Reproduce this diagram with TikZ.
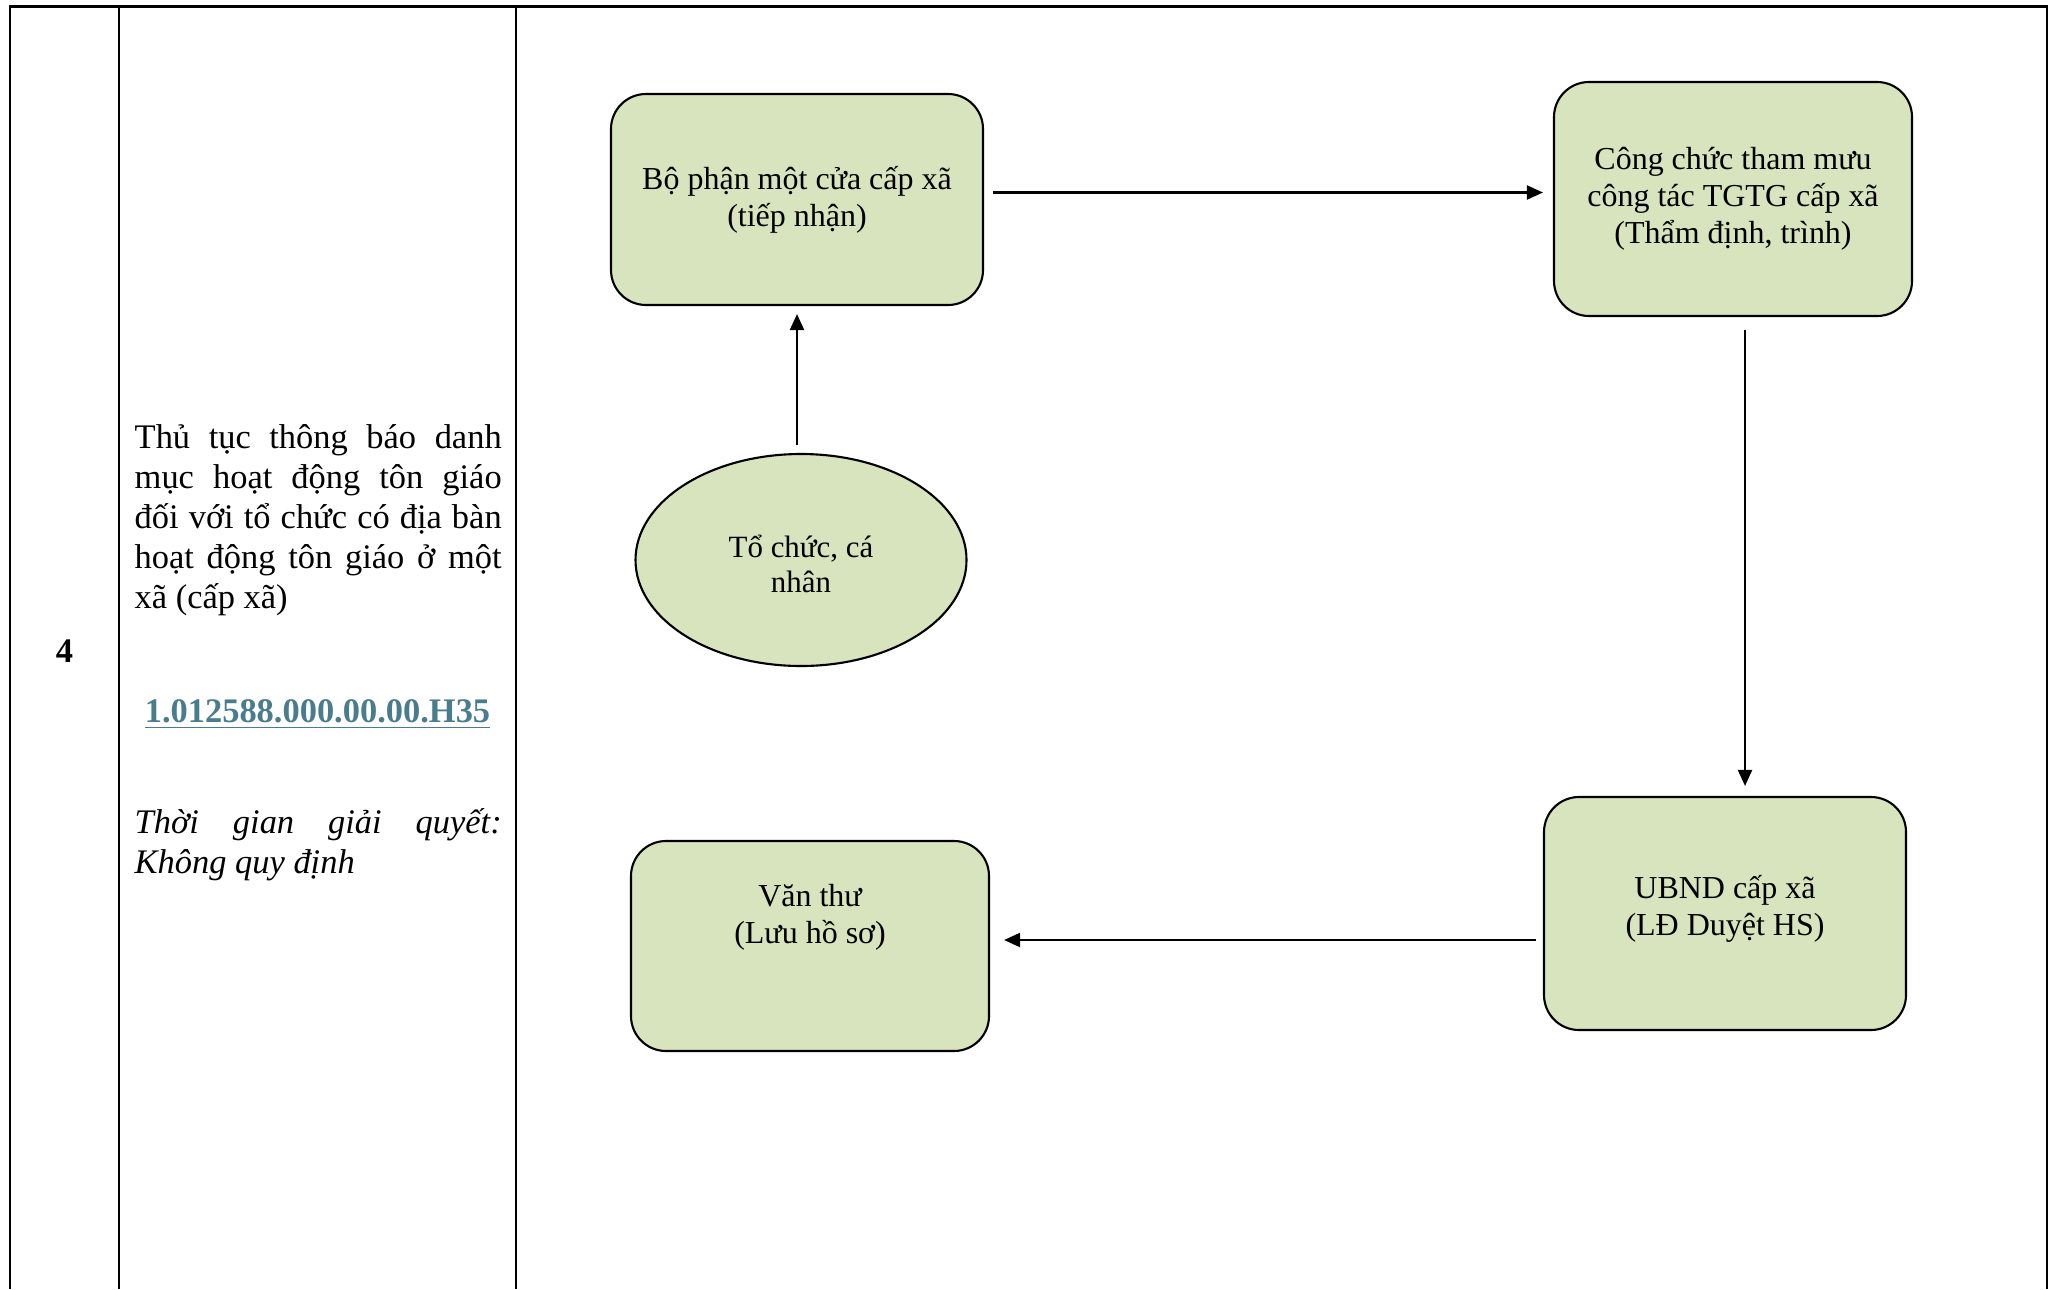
\documentclass[tikz,border=0pt]{standalone}
\usepackage{fontspec}
\setmainfont{Liberation Serif}
\usepackage{xcolor}
\usepackage{tikz}
\usetikzlibrary{arrows.meta, positioning, calc, shapes.geometric}
\definecolor{boxgreen}{HTML}{D7E4BD}
\definecolor{codeteal}{HTML}{4A7D8C}
\hyphenpenalty=10000

\begin{document}
\begin{tikzpicture}[
	grid/.style={line width=0.65pt},
	stepbox/.style={draw, line width=0.6pt, fill=boxgreen, rounded corners=0.35cm, align=center, font=\fontsize{9.1}{10.5}\selectfont},
	person/.style={draw, line width=0.6pt, fill=boxgreen, ellipse, align=center, font=\fontsize{8.8}{10}\selectfont},
	boxtext/.style={align=center, font=\fontsize{9.1}{10.5}\selectfont},
	celltext/.style={inner sep=0pt, text width=3.67cm, align=justify, font=\fontsize{9.8}{11.4}\selectfont},
	flow/.style={-{Triangle[length=1.6mm, width=1.4mm]}, line width=0.6pt}
]
	\useasboundingbox (0,0) rectangle (20.53,12.89);
	% table frame
	\draw[grid] (0.10,0) -- (0.10,12.825) -- (20.47,12.825) -- (20.47,0);
	\draw[grid] (1.19,12.825) -- (1.19,0);
	\draw[grid] (5.16,12.825) -- (5.16,0);

	% left columns
	\node[inner sep=0pt, anchor=base, font=\fontsize{9.8}{11.4}\selectfont\bfseries] (rownum) at (0.645,6.27) {4};
	\node[celltext, anchor=base west] (title) at (1.34,8.41) {Thủ tục thông báo danh\linebreak mục hoạt động tôn giáo\linebreak đối với tổ chức có địa bàn\linebreak hoạt động tôn giáo ở một\linebreak xã (cấp xã)};
	\node[inner sep=0pt, anchor=base, text=codeteal, font=\fontsize{9.8}{11.4}\selectfont\bfseries] (code) at (3.175,5.67) {\underline{1.012588.000.00.00.H35}};
	\node[celltext, anchor=base west, font=\fontsize{9.8}{11.4}\selectfont\itshape] (deadline) at (1.34,4.56) {Thời gian giải quyết:\linebreak Không quy định};

	% flow chart
	\node[stepbox, minimum width=3.72cm, minimum height=2.11cm] (recv) at (7.97,10.895) {Bộ phận một cửa cấp xã\\(tiếp nhận)};
	\node[stepbox, minimum width=3.58cm, minimum height=2.34cm] (staff) at (17.33,10.90) {Công chức tham mưu\\công tác TGTG cấp xã\\(Thẩm định, trình)};
	\node[person, minimum width=3.31cm, minimum height=2.12cm] (org) at (8.01,7.29) {};
	\node[person, draw=none, fill=none] (orgtext) at ([yshift=-0.4mm]org.center) {Tổ chức, cá\\nhân};
	\node[stepbox, minimum width=3.62cm, minimum height=2.33cm] (ubnd) at (17.25,3.755) {};
	\node[boxtext] (ubndtext) at ([yshift=0.5mm]ubnd.center) {UBND cấp xã\\(LĐ Duyệt HS)};
	\node[stepbox, minimum width=3.58cm, minimum height=2.10cm] (arch) at (8.10,3.43) {};
	\node[boxtext] (archtext) at ([yshift=2.9mm]arch.center) {Văn thư\\(Lưu hồ sơ)};

	\draw[flow, shorten <=0.9mm, shorten >=1mm] ([yshift=0.7mm]recv.east) -- ([yshift=0.7mm]recv.east -| staff.west);
	\draw[flow, shorten <=0.8mm, shorten >=0.8mm] (recv.south |- org.north) -- (recv.south);
	\draw[flow, shorten <=1.3mm, shorten >=1mm] ([xshift=1.2mm]staff.south) -- ([xshift=1.2mm]staff.south |- ubnd.north);
	\draw[flow, shorten <=0.7mm, shorten >=1.4mm] ([yshift=0.6mm]arch.east -| ubnd.west) -- ([yshift=0.6mm]arch.east);
\end{tikzpicture}
\end{document}
